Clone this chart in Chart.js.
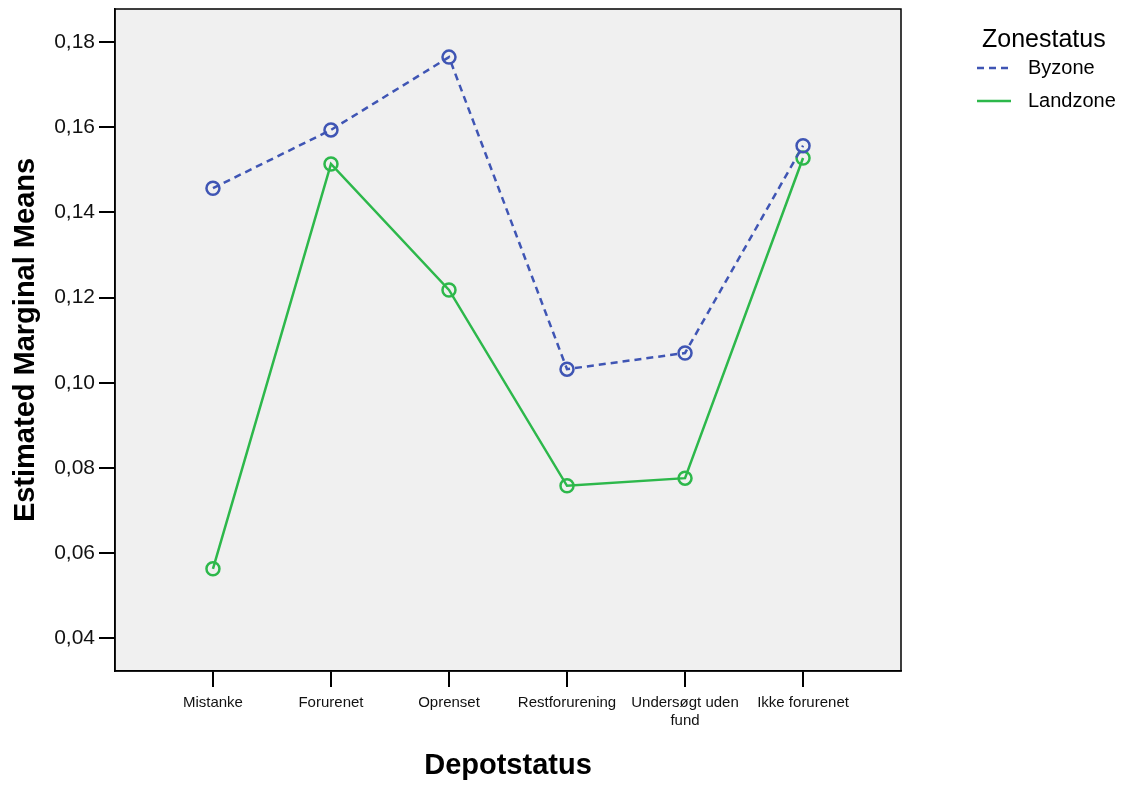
<!DOCTYPE html>
<html>
<head>
<meta charset="utf-8">
<script src="https://cdn.jsdelivr.net/npm/chart.js@4.4.1/dist/chart.umd.min.js"></script>
<style>
  html, body { margin: 0; padding: 0; background: #ffffff; }
  #wrap { width: 1125px; height: 787px; position: relative; }
</style>
</head>
<body>
<div id="wrap"><canvas id="c" width="1125" height="787"></canvas></div>
<script>
const categories = ['Mistanke', 'Forurenet', 'Oprenset', 'Restforurening', 'Undersøgt uden\nfund', 'Ikke forurenet'];
const byzone   = [0.1457, 0.1594, 0.1765, 0.1032, 0.1070, 0.1557];
const landzone = [0.0563, 0.1514, 0.1218, 0.0758, 0.0776, 0.1528];
const yTickValues = [0.04, 0.06, 0.08, 0.10, 0.12, 0.14, 0.16, 0.18];
const seriesNames = ['Byzone', 'Landzone'];
const legendTitle = 'Zonestatus';

const BLUE = '#3F55B4';
const GREEN = '#2DB84B';
const FONT = "Arial, 'Liberation Sans', Helvetica, sans-serif";

const toPoints = arr => arr.map((v, i) => ({ x: i, y: v }));

const plotBg = {
  id: 'plotBg',
  beforeDraw(chart) {
    const { ctx, chartArea: a } = chart;
    ctx.save();
    ctx.fillStyle = '#F0F0F0';
    ctx.fillRect(a.left, a.top, a.right - a.left, a.bottom - a.top);
    ctx.restore();
  },
  afterDatasetsDraw(chart) {
    const { ctx, chartArea: a } = chart;
    ctx.save();
    ctx.strokeStyle = '#000';
    ctx.lineWidth = 1.5;
    ctx.strokeRect(a.left, a.top, a.right - a.left, a.bottom - a.top);
    ctx.restore();
  }
};

const customLegend = {
  id: 'customLegend',
  afterDraw(chart) {
    const { ctx } = chart;
    ctx.save();
    ctx.fillStyle = '#000';
    ctx.textBaseline = 'middle';
    ctx.textAlign = 'left';
    ctx.font = '25px ' + FONT;
    ctx.fillText(legendTitle, 982, 40);
    chart.data.datasets.forEach((ds, i) => {
      const y = 68 + i * 33;
      ctx.beginPath();
      ctx.strokeStyle = ds.borderColor;
      ctx.lineWidth = 2.5;
      ctx.setLineDash(ds.borderDash || []);
      ctx.moveTo(977, y);
      ctx.lineTo(1011, y);
      ctx.stroke();
      ctx.setLineDash([]);
      ctx.fillStyle = '#000';
      ctx.font = '20px ' + FONT;
      ctx.fillText(ds.label, 1028, y);
    });
    ctx.restore();
  }
};

new Chart(document.getElementById('c'), {
  type: 'line',
  data: {
    datasets: [
      {
        label: seriesNames[0],
        data: toPoints(byzone),
        borderColor: BLUE,
        borderWidth: 2.5,
        borderDash: [7, 5],
        pointRadius: 6.5,
        pointBorderWidth: 2.5,
        pointBorderColor: BLUE,
        pointBackgroundColor: 'rgba(0,0,0,0)',
        fill: false,
        tension: 0
      },
      {
        label: seriesNames[1],
        data: toPoints(landzone),
        borderColor: GREEN,
        borderWidth: 2.5,
        pointRadius: 6.5,
        pointBorderWidth: 2.5,
        pointBorderColor: GREEN,
        pointBackgroundColor: 'rgba(0,0,0,0)',
        fill: false,
        tension: 0
      }
    ]
  },
  options: {
    responsive: false,
    animation: false,
    layout: { padding: { left: 0, right: 224, top: 9, bottom: 0 } },
    plugins: {
      legend: { display: false },
      tooltip: { enabled: false }
    },
    scales: {
      x: {
        type: 'linear',
        min: -0.83,
        max: 5.83,
        afterBuildTicks(scale) {
          scale.ticks = categories.map((c, i) => ({ value: i }));
        },
        afterFit(scale) {
          scale.height = 116;
          scale.paddingLeft = 0; scale.paddingRight = 0;
        },
        grid: {
          drawOnChartArea: false,
          drawTicks: true,
          tickLength: 16,
          color: '#000',
          lineWidth: 2
        },
        border: { display: true, color: '#000', width: 1.5 },
        ticks: {
          autoSkip: false,
          maxRotation: 0,
          padding: 6,
          color: '#111',
          font: { family: FONT, size: 15, lineHeight: 1.25 },
          callback(value) {
            const lbl = categories[Math.round(value)];
            return lbl && lbl.includes('\n') ? lbl.split('\n') : lbl;
          }
        },
        title: {
          display: true,
          text: 'Depotstatus',
          color: '#000',
          font: { family: FONT, size: 29, weight: 'bold', lineHeight: 1.2 },
          padding: { top: 0, bottom: 4 }
        }
      },
      y: {
        type: 'linear',
        min: 0.0323,
        max: 0.1878,
        afterBuildTicks(scale) {
          scale.ticks = yTickValues.map(v => ({ value: v }));
        },
        afterFit(scale) {
          scale.width = 115;
          scale.paddingTop = 0; scale.paddingBottom = 0;
        },
        grid: {
          drawOnChartArea: false,
          drawTicks: true,
          tickLength: 16,
          color: '#000',
          lineWidth: 2
        },
        border: { display: true, color: '#000', width: 1.5 },
        ticks: {
          padding: 4,
          color: '#111',
          font: { family: FONT, size: 21 },
          callback(value) { return value.toFixed(2).replace('.', ','); }
        },
        title: {
          display: true,
          text: 'Estimated Marginal Means',
          color: '#000',
          font: { family: FONT, size: 29, weight: 'bold', lineHeight: 1.2 },
          padding: { top: 9, bottom: 0 }
        }
      }
    }
  },
  plugins: [plotBg, customLegend]
});
</script>
</body>
</html>
